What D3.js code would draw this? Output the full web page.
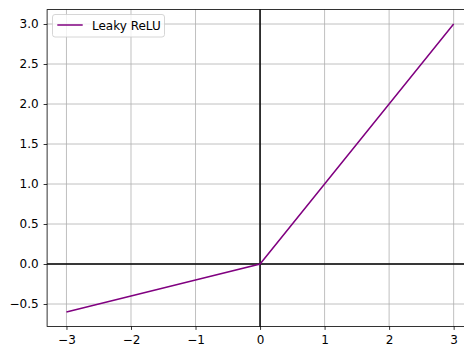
<!DOCTYPE html>
<html>
<head>
<meta charset="utf-8">
<script src="https://cdn.jsdelivr.net/npm/d3@7"></script>
<style>
  html, body { margin: 0; padding: 0; background: #fff; }
  svg { display: block; }
  text { font-family: "DejaVu Sans", sans-serif; }
</style>
</head>
<body>
<svg id="chart" width="464" height="345"></svg>
<script>
// Leaky ReLU: f(x) = x for x >= 0, 0.2x otherwise
const xs = [-3, -2, -1, 0, 1, 2, 3];
const ys = [-0.6, -0.4, -0.2, 0, 1, 2, 3];
const xTicks = [-3, -2, -1, 0, 1, 2, 3];
const yTicks = [-0.5, 0.0, 0.5, 1.0, 1.5, 2.0, 2.5, 3.0];
const seriesName = "Leaky ReLU";

const svg = d3.select("#chart");
const plotL = 47.1, plotR = 473, plotT = 9.6, plotB = 326.4;

const x = d3.scaleLinear().domain([-3.3, 3.3]).range([plotL, plotR]);
const y = d3.scaleLinear().domain([-0.78, 3.18]).range([plotB, plotT]);

const fmtMinus = s => s.replace("-", "\u2212");

// grid
const grid = svg.append("g");
grid.selectAll("line.gx").data(xTicks).join("line")
  .attr("x1", d => x(d)).attr("x2", d => x(d))
  .attr("y1", plotT).attr("y2", plotB)
  .attr("stroke", "#b0b0b0").attr("stroke-width", 0.8);
grid.selectAll("line.gy").data(yTicks).join("line")
  .attr("y1", d => y(d)).attr("y2", d => y(d))
  .attr("x1", plotL).attr("x2", plotR)
  .attr("stroke", "#b0b0b0").attr("stroke-width", 0.8);

// zero lines
svg.append("line").attr("x1", plotL).attr("x2", plotR)
  .attr("y1", y(0)).attr("y2", y(0))
  .attr("stroke", "#000").attr("stroke-width", 1.5);
svg.append("line").attr("x1", x(0)).attr("x2", x(0))
  .attr("y1", plotT).attr("y2", plotB)
  .attr("stroke", "#000").attr("stroke-width", 1.5);

// series line
svg.append("path")
  .datum(xs.map((v, i) => [v, ys[i]]))
  .attr("fill", "none")
  .attr("stroke", "#800080")
  .attr("stroke-width", 1.5)
  .attr("d", d3.line().x(d => x(d[0])).y(d => y(d[1])));

// axes
const xAxis = d3.axisBottom(x).tickValues(xTicks)
  .tickFormat(d => fmtMinus(d3.format("d")(d))).tickSize(3.5).tickPadding(5.5);
const yAxis = d3.axisLeft(y).tickValues(yTicks)
  .tickFormat(d => fmtMinus(d3.format(".1f")(d))).tickSize(3.5).tickPadding(5);

const gx = svg.append("g").attr("transform", `translate(0,${plotB})`).call(xAxis);
const gy = svg.append("g").attr("transform", `translate(${plotL},0)`).call(yAxis);
[gx, gy].forEach(g => {
  g.select(".domain").remove();
  g.selectAll(".tick line").attr("stroke", "#000").attr("stroke-width", 0.8);
  g.selectAll(".tick text").attr("fill", "#000").style("font-size", "12px")
    .style("font-family", "'DejaVu Sans', sans-serif");
});

// spines
svg.append("rect").attr("x", plotL).attr("y", plotT)
  .attr("width", plotR - plotL).attr("height", plotB - plotT)
  .attr("fill", "none").attr("stroke", "#000").attr("stroke-width", 0.8);

// legend
const lg = svg.append("g");
lg.append("rect").attr("x", 52.5).attr("y", 14.5).attr("width", 112).attr("height", 22.5)
  .attr("rx", 2.5).attr("fill", "#fff").attr("fill-opacity", 0.8)
  .attr("stroke", "#cccccc").attr("stroke-width", 0.8);
lg.append("line").attr("x1", 57.3).attr("x2", 82.7).attr("y1", 25).attr("y2", 25)
  .attr("stroke", "#800080").attr("stroke-width", 1.5);
lg.append("text").attr("x", 92).attr("y", 29.5).text(seriesName)
  .style("font-size", "12px").attr("fill", "#000");
</script>
</body>
</html>
